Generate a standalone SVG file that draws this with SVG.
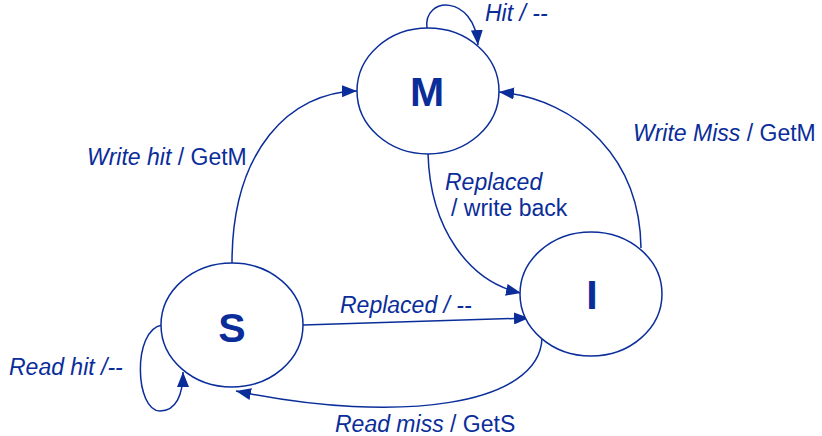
<svg xmlns="http://www.w3.org/2000/svg" width="822" height="436" viewBox="0 0 822 436">
<style>
.node{fill:#fff;stroke:#0a2d9a;stroke-width:1.5}
.edge{fill:none;stroke:#0a2d9a;stroke-width:1.5}
.lbl{font-family:"Liberation Sans",Arial,sans-serif;font-size:23px;fill:#0a2d9a}
.it{font-style:italic}
.st{font-family:"Liberation Sans",Arial,sans-serif;font-size:41px;font-weight:bold;fill:#0a2d9a;text-anchor:middle}
</style>
<defs>
<marker id="ah" markerUnits="userSpaceOnUse" markerWidth="16" markerHeight="12" refX="15" refY="6" orient="auto">
<path d="M0,0 L15,6 L0,12 z" fill="#0a2d9a"/>
</marker>
</defs>
<rect width="822" height="436" fill="#fff"/>
<g id="connectors">
<path class="edge" d="M427,28 C423,-4 474,-6 478,45" marker-end="url(#ah)"/>
<path class="edge" d="M232,263 C232,150 290,92 357,91" marker-end="url(#ah)"/>
<path class="edge" d="M428,153 C430,230 470,282 521,293" marker-end="url(#ah)"/>
<path class="edge" d="M641,248 C640,160 580,100 499,92" marker-end="url(#ah)"/>
<path class="edge" d="M303,325 L529,318" marker-end="url(#ah)"/>
<path class="edge" d="M542,338 C540,405 400,425 236,391" marker-end="url(#ah)"/>
<path class="edge" d="M162,325 C132,330 135,411 160,411 C176,411 183,395 183,372" marker-end="url(#ah)"/>
</g>
<g id="node-M"><ellipse class="node" cx="428" cy="91" rx="71" ry="63"/><text class="st" x="427" y="106">M</text></g>
<g id="node-S"><ellipse class="node" cx="232" cy="325" rx="71" ry="62"/><text class="st" x="232" y="342">S</text></g>
<g id="node-I"><ellipse class="node" cx="591" cy="294" rx="71" ry="62"/><text class="st" x="592" y="309">I</text></g>
<g id="labels">
<text class="lbl it" x="485" y="21">Hit / --</text>
<text class="lbl" x="87" y="165"><tspan class="it">Write hit</tspan> / GetM</text>
<text class="lbl it" x="445" y="190">Replaced</text>
<text class="lbl" x="451" y="216">/ write back</text>
<text class="lbl" x="633" y="141"><tspan class="it">Write Miss</tspan> / GetM</text>
<text class="lbl it" x="340" y="313">Replaced / --</text>
<text class="lbl it" x="9" y="375">Read hit /--</text>
<text class="lbl" x="335" y="432"><tspan class="it">Read miss</tspan> / GetS</text>
</g>
</svg>
